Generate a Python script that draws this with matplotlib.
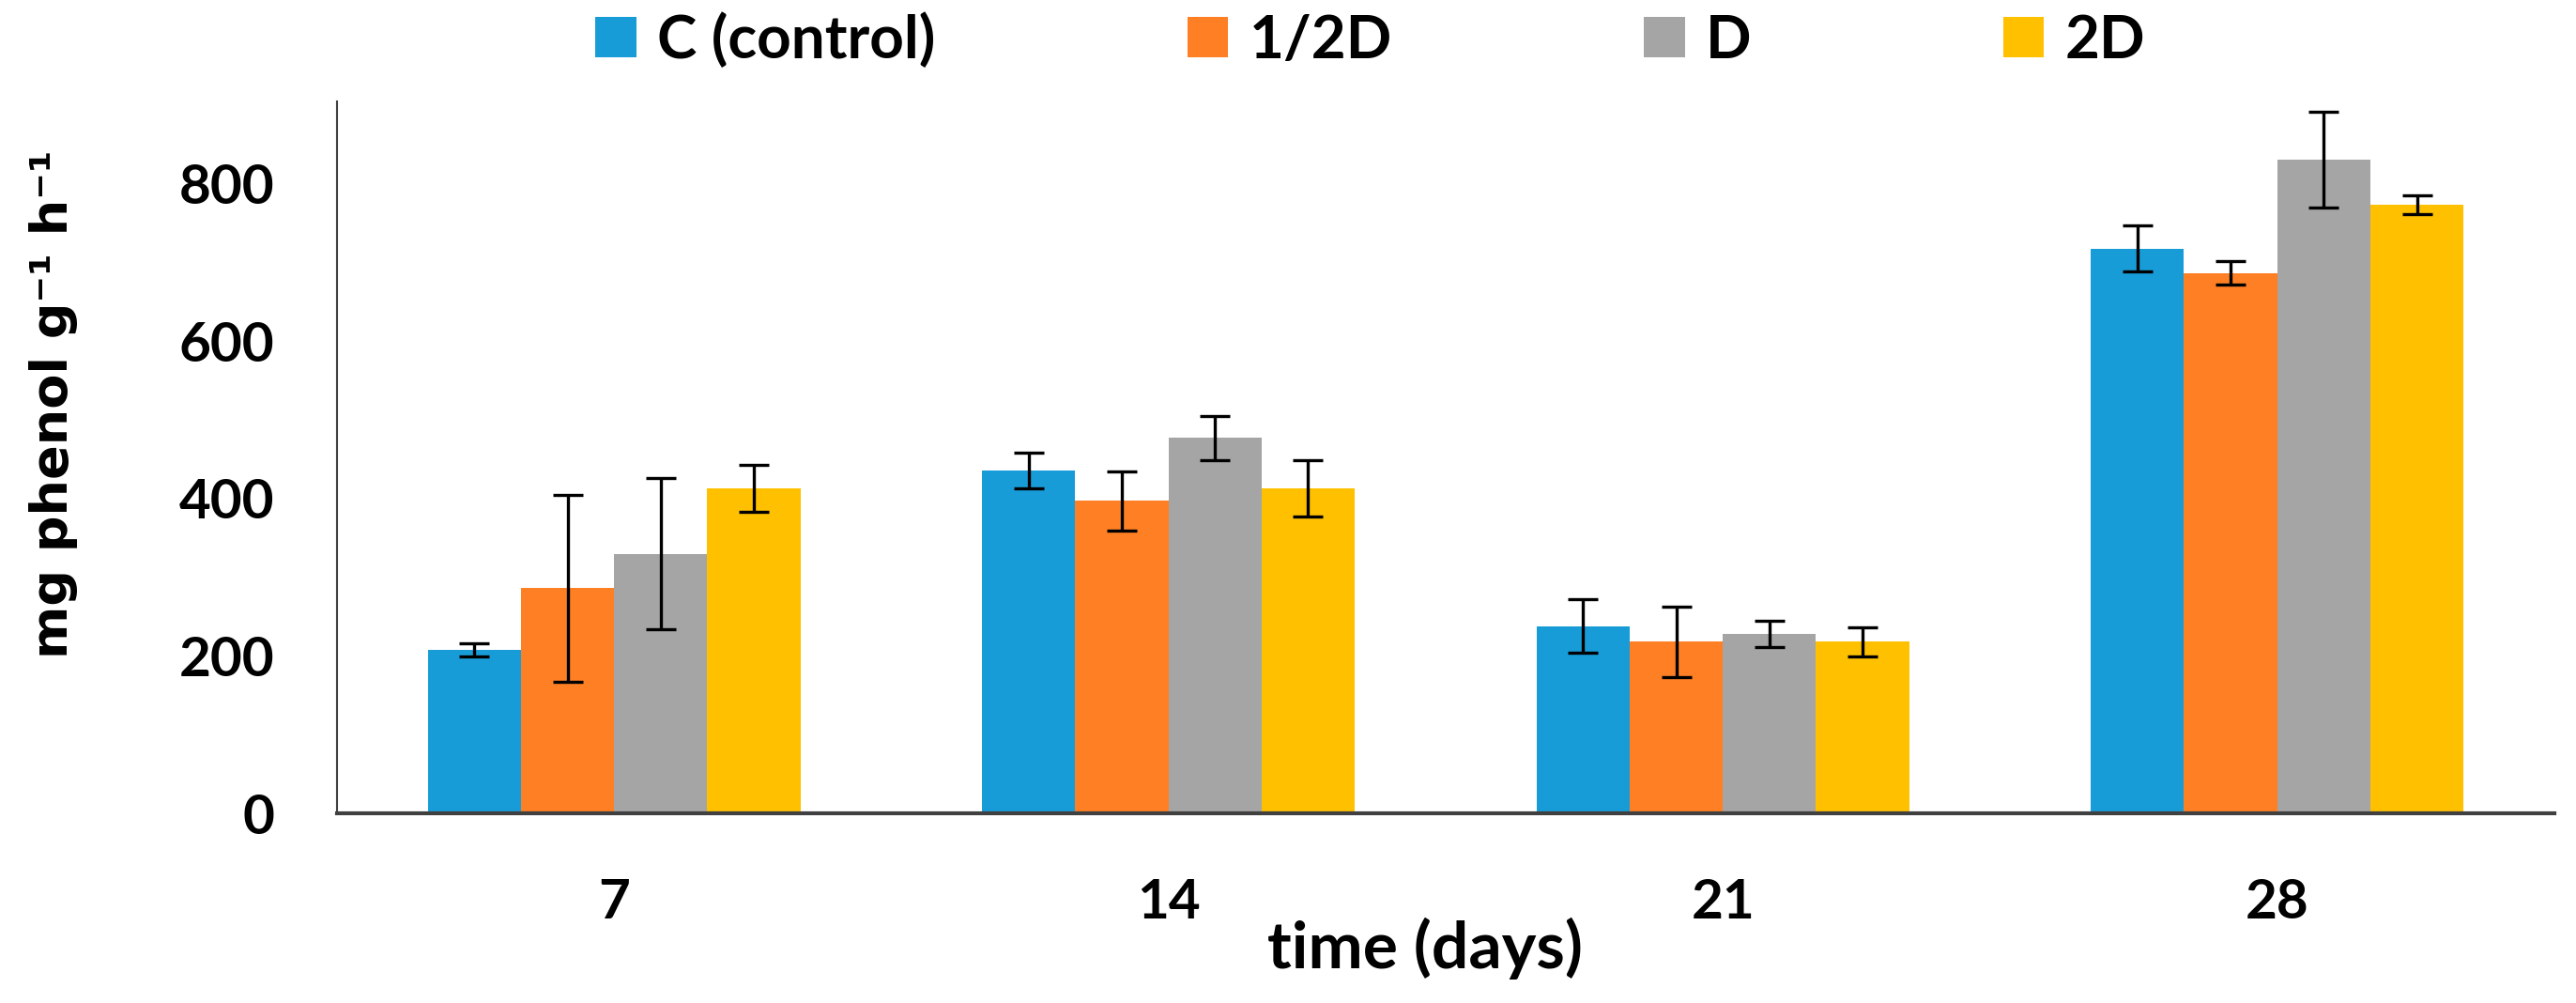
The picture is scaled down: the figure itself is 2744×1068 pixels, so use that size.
import matplotlib
matplotlib.use("Agg")
import matplotlib.pyplot as plt
import numpy as np

# data
days = ['7', '14', '21', '28']
treatments = ['C (control)', '1/2D', 'D', '2D']
c_vals = [208, 436, 238, 718]
half_vals = [286, 397, 218, 687]
d_vals = [330, 477, 228, 831]
dd_vals = [413, 413, 218, 774]
c_err = [8, 23, 34, 29]
half_err = [119, 38, 45, 15]
d_err = [96, 28, 17, 61]
dd_err = [30, 36, 18, 12]
colors = ['#189cd8', '#ff7f24', '#a5a5a5', '#ffc000']

values = [c_vals, half_vals, d_vals, dd_vals]
errors = [c_err, half_err, d_err, dd_err]

fig = plt.figure(figsize=(27.44, 10.68), dpi=100)
ax = fig.add_axes([0.1308, 0.1891, 0.8608, 0.7098])

x = np.arange(len(days))
w = 0.168
for i in range(len(treatments)):
    ax.bar(x + (i - 1.5) * w, values[i], w, color=colors[i], label=treatments[i],
           yerr=errors[i], error_kw=dict(ecolor='black', elinewidth=2.4, capsize=11.5, capthick=2.4))

ax.set_xlim(-0.5, 3.5)
ax.set_ylim(0, 905)
ax.set_yticks([0, 200, 400, 600, 800])
ax.set_xticks(x)
ax.set_xticklabels(days)

for s in ['top', 'right']:
    ax.spines[s].set_visible(False)
ax.spines['left'].set_color('#404040')
ax.spines['left'].set_linewidth(1.5)
ax.spines['bottom'].set_color('#404040')
ax.spines['bottom'].set_linewidth(3)
ax.spines['bottom'].set_zorder(5)

ax.tick_params(axis='both', length=0)
ax.tick_params(axis='y', pad=48)
ax.tick_params(axis='x', pad=50)
for lab in ax.get_xticklabels() + ax.get_yticklabels():
    lab.set_fontfamily('Lato')
    lab.set_fontweight('bold')
    lab.set_fontsize(42)

fig.text(1518 / 2744, 1 - 1010 / 1068, 'time (days)', ha='center', va='center',
         family='Lato', weight='bold', fontsize=50)
fig.text(57 / 2744, 1 - 430 / 1068, 'mg phenol g\u207b\u00b9 h\u207b\u00b9', rotation=90,
         ha='center', va='center', family='DejaVu Sans', weight='bold', fontsize=39)

leg = fig.legend(loc='center', bbox_to_anchor=(0.532, 1 - 42 / 1068), ncol=4, frameon=False,
                 prop=dict(family='Lato', weight='bold', size=46),
                 handlelength=0.68, handleheight=0.65, handletextpad=0.35, columnspacing=4.2)

fig.savefig('out.png', dpi=100)
